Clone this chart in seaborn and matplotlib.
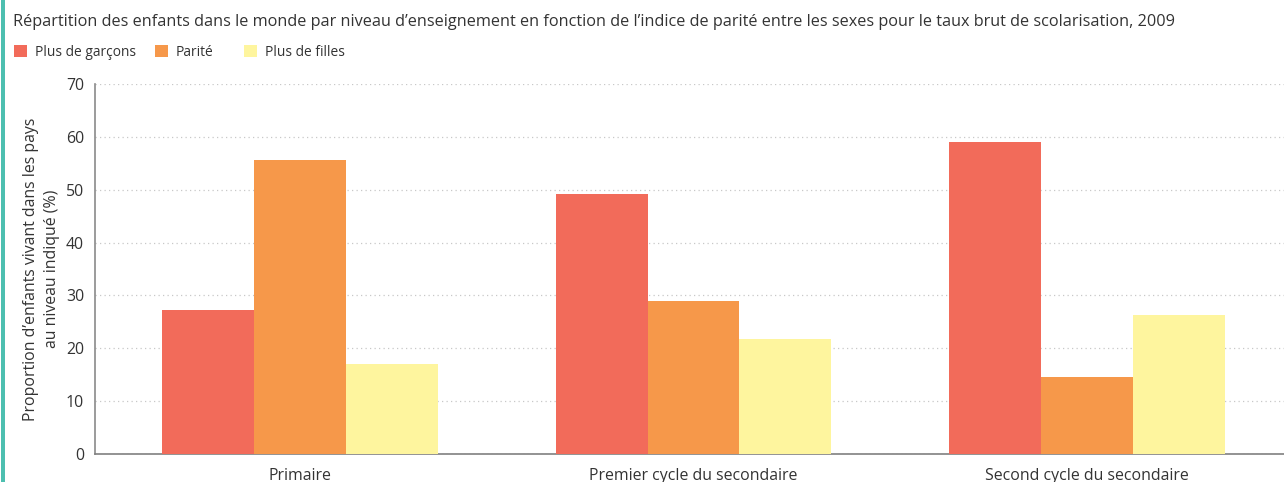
import pandas as pd
import numpy as np
import matplotlib.pyplot as plt
import seaborn as sns
from matplotlib.patches import Patch, Rectangle

# Donnees
niveaux = ['Primaire', 'Premier cycle du secondaire', 'Second cycle du secondaire']
groupes = ['Plus de garçons', 'Parité', 'Plus de filles']
plus_garcons = [27.2, 49.1, 59.0]
parite = [55.6, 28.9, 14.6]
plus_filles = [17.0, 21.7, 26.3]
couleurs = ['#F26B5A', '#F6984A', '#FEF59E']

titre = ("Répartition des enfants dans le monde par niveau d\u2019enseignement en fonction "
         "de l\u2019indice de parité entre les sexes pour le taux brut de scolarisation, 2009")
ylabel = "Proportion d\u2019enfants vivant dans les pays\nau niveau indiqué (%)"

df = pd.DataFrame({
    'Niveau': niveaux * 3,
    'Groupe': [groupes[0]] * 3 + [groupes[1]] * 3 + [groupes[2]] * 3,
    'Valeur': plus_garcons + parite + plus_filles,
})

sns.set_style('white')
plt.rcParams['font.family'] = ['Open Sans', 'DejaVu Sans']

fig = plt.figure(figsize=(12.84, 4.82), dpi=100)
ax = fig.add_axes([95 / 1284, 1 - 454 / 482, 1 - 95 / 1284, (454 - 84) / 482])

sns.barplot(data=df, x='Niveau', y='Valeur', hue='Groupe', order=niveaux,
            hue_order=groupes, palette=couleurs, width=0.7, saturation=1,
            linewidth=0, ax=ax, legend=False, zorder=3)

ax.set_xlim(-0.52, 2.5)
ax.set_ylim(0, 70)
ax.set_yticks(range(0, 71, 10))
ax.yaxis.grid(True, color='#c8c8c8', linestyle=(0, (1, 2.6)), linewidth=0.9, zorder=0)
ax.xaxis.grid(False)
ax.set_axisbelow(True)

for s in ['top', 'right']:
    ax.spines[s].set_visible(False)
ax.spines['left'].set_color('#8a8a8a')
ax.spines['bottom'].set_color('#808080')
ax.spines['left'].set_linewidth(1.2)
ax.spines['bottom'].set_linewidth(1.2)

ax.tick_params(axis='both', length=0, labelsize=11.4, colors='#333333')
ax.tick_params(axis='y', pad=8)
ax.tick_params(axis='x', pad=10)
ax.set_xlabel('')
ax.set_ylabel(ylabel, fontsize=11.4, color='#333333', linespacing=1.4)
ax.yaxis.set_label_coords(-35 / 1189, 0.5)

fig.text(13 / 1284, 1 - 22 / 482, titre, fontsize=11.7, color='#333333', va='center', ha='left')

# legende : une entree par groupe, placee comme dans l'original
legende_x = [14, 155, 244]
for g, c, lx in zip(groupes, couleurs, legende_x):
    fig.legend([Patch(facecolor=c, edgecolor='none')], [g], loc='center left',
               bbox_to_anchor=(lx / 1284, 1 - 52 / 482), borderaxespad=0, borderpad=0,
               frameon=False, fontsize=9.9, handlelength=0.95, handleheight=0.95,
               handletextpad=0.55, labelcolor='#333333')

# bande verticale a gauche
fig.patches.append(Rectangle((1 / 1284, 0), 4 / 1284, 1, transform=fig.transFigure,
                             facecolor='#4DBFB0', edgecolor='none'))

fig.savefig('out.png', dpi=100)
